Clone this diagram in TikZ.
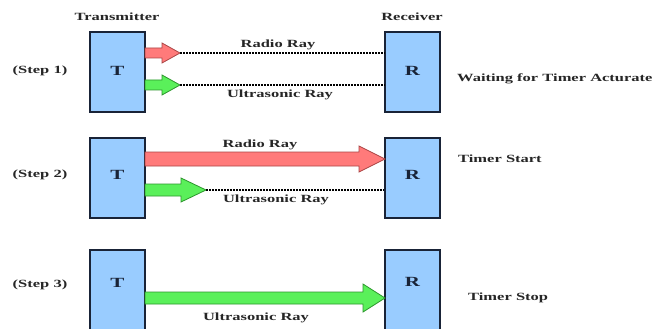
\documentclass[tikz,border=0pt]{standalone}
\usepackage{fontspec}
\setmainfont{Liberation Serif}[FakeStretch=1.5]
\usetikzlibrary{calc}
\definecolor{boxblue}{RGB}{153,204,255}
\definecolor{boxline}{RGB}{25,35,55}
\definecolor{redfill}{RGB}{255,122,122}
\definecolor{redline}{RGB}{170,70,70}
\definecolor{greenfill}{RGB}{90,240,90}
\definecolor{greenline}{RGB}{45,150,45}
\tikzset{
  unit/.style={draw=boxline, line width=1.4pt, fill=boxblue, minimum width=55pt, minimum height=80pt, inner sep=0pt},
  letter/.style={font=\fontsize{14}{16}\selectfont\bfseries, text=boxline, inner sep=0pt},
  lbl/.style={font=\fontsize{11}{13}\selectfont\bfseries, text=black!85, inner sep=0pt},
  ray/.style={line width=1.3pt, dash pattern=on 1.6pt off 1.4pt},
  redarr/.style={fill=redfill, draw=redline, line width=0.8pt, line join=miter},
  greenarr/.style={fill=greenfill, draw=greenline, line width=0.8pt, line join=miter},
}
% #1 style, #2 start x, #3 head start x, #4 tip x, #5 y, #6 shaft half, #7 head half, #8 name of tip coordinate
\newcommand\blockarr[8]{%
  \draw[#1] (#2,#5-#6) -- (#3,#5-#6) -- (#3,#5-#7) -- (#4,#5) -- (#3,#5+#7) -- (#3,#5+#6) -- (#2,#5+#6) -- cycle;
  \coordinate (#8) at (#4,#5);
}
\begin{document}
\begin{tikzpicture}[x=1pt,y=-1pt]
\useasboundingbox (0,0) rectangle (662,329);
\fill[white] (0,0) rectangle (662,329);

\node[lbl] (tx) at (117,17) {Transmitter};
\node[lbl] (rx) at (412,17) {Receiver};

% Step 1
\node[lbl] (s1) at (40,71) {(Step 1)};
\node[unit] (t1) at (117.5,72) {};
\node[unit] (r1) at (412.5,72) {};
\node[letter] (t1l) at (117.5,71) {T};
\node[letter] (r1l) at (412.5,71) {R};
\blockarr{redarr}{145}{162}{180}{53}{5}{10}{a1}
\blockarr{greenarr}{145}{162}{180}{85}{5}{10}{b1}
\draw[ray] (a1) -- (a1 -| r1.west);
\draw[ray] (b1) -- (b1 -| r1.west);
\node[lbl] (rr1) at (278,45) {Radio Ray};
\node[lbl] (ur1) at (280,95) {Ultrasonic Ray};
\node[lbl, anchor=west] (w1) at (457,79) {Waiting for Timer Acturate};

% Step 2
\node[lbl] (s2) at (40,175) {(Step 2)};
\node[unit] (t2) at (117.5,178) {};
\node[unit] (r2) at (412.5,178) {};
\node[letter] (t2l) at (117.5,175) {T};
\node[letter] (r2l) at (412.5,175) {R};
\blockarr{redarr}{145}{359}{385}{159}{7}{13}{a2}
\blockarr{greenarr}{145}{181}{206}{190}{6}{12}{b2}
\draw[ray] (b2) -- (b2 -| r2.west);
\node[lbl] (rr2) at (260,145) {Radio Ray};
\node[lbl] (ur2) at (276,200) {Ultrasonic Ray};
\node[lbl, anchor=west] (w2) at (458,159) {Timer Start};

% Step 3
\node[lbl] (s3) at (40,285) {(Step 3)};
\node[unit] (t3) at (117.5,290) {};
\node[unit] (r3) at (412.5,290) {};
\node[letter] (t3l) at (117.5,283) {T};
\node[letter] (r3l) at (412.5,282) {R};
\blockarr{greenarr}{145}{363}{385}{298}{6}{14}{b3}
\node[lbl] (ur3) at (256,318) {Ultrasonic Ray};
\node[lbl, anchor=west] (w3) at (468,298) {Timer Stop};
\end{tikzpicture}
\end{document}
